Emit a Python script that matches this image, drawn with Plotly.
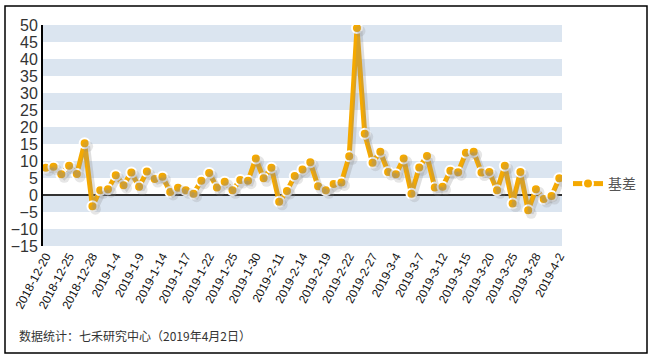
import plotly.graph_objects as go

dates = [
    "2018-12-20", "2018-12-21", "2018-12-24", "2018-12-25", "2018-12-26", "2018-12-27", "2018-12-28",
    "2019-1-2", "2019-1-3", "2019-1-4",
    "2019-1-7", "2019-1-8", "2019-1-9", "2019-1-10", "2019-1-11",
    "2019-1-14", "2019-1-15", "2019-1-16", "2019-1-17", "2019-1-18",
    "2019-1-21", "2019-1-22", "2019-1-23", "2019-1-24", "2019-1-25",
    "2019-1-28", "2019-1-29", "2019-1-30", "2019-1-31", "2019-2-1",
    "2019-2-11", "2019-2-12", "2019-2-13", "2019-2-14", "2019-2-15",
    "2019-2-18", "2019-2-19", "2019-2-20", "2019-2-21", "2019-2-22",
    "2019-2-25", "2019-2-26", "2019-2-27", "2019-2-28", "2019-3-1",
    "2019-3-4", "2019-3-5", "2019-3-6", "2019-3-7", "2019-3-8",
    "2019-3-11", "2019-3-12", "2019-3-13", "2019-3-14", "2019-3-15",
    "2019-3-18", "2019-3-19", "2019-3-20", "2019-3-21", "2019-3-22",
    "2019-3-25", "2019-3-26", "2019-3-27", "2019-3-28", "2019-3-29",
    "2019-4-1", "2019-4-2",
]

basis = [
    8.0, 8.3, 6.1, 8.6, 6.2, 15.2, -3.3,
    1.4, 1.7, 5.8,
    2.9, 6.6, 2.4, 6.9, 4.7,
    5.4, 0.9, 2.1, 1.4, 0.4,
    4.2, 6.5, 2.2, 3.9, 1.4,
    4.4, 4.2, 10.7, 4.9, 8.0,
    -2.0, 1.2, 5.6, 7.5, 9.6,
    2.6, 1.4, 3.2, 3.7, 11.4,
    49.1, 18.0, 9.5, 12.7, 6.8,
    6.1, 10.7, 0.4, 8.1, 11.5,
    2.2, 2.4, 7.1, 6.7, 12.4,
    12.7, 6.6, 6.8, 1.4, 8.6,
    -2.5, 6.8, -4.5, 1.7, -1.2,
    -0.3, 4.9,
]

tick_dates = dates[::3]
y_ticks = list(range(-15, 51, 5))
bands = [(45, 50), (35, 40), (25, 30), (15, 20), (5, 10), (-5, 0), (-15, -10)]

series_name = "基差"
source_note = "数据统计：七禾研究中心（2019年4月2日）"

ORANGE = "#f5a900"
W, H = 653, 358
L, R, T, B = 43, 91, 25, 112
plot_w = W - L - R
plot_h = H - T - B

n = len(dates)
xr = [-0.35, n - 1 + 0.35]
yr = [-15, 50]
px_x = plot_w / (xr[1] - xr[0])
px_y = plot_h / (yr[1] - yr[0])
sh = 3.0
xr2 = [xr[0] - sh / px_x, xr[1] - sh / px_x]
yr2 = [yr[0] + sh / px_y, yr[1] + sh / px_y]

fig = go.Figure()

# shadow
fig.add_trace(go.Scatter(
    x=dates, y=basis, xaxis="x2", yaxis="y2", mode="lines+markers",
    line=dict(color="rgba(140,140,140,0.28)", width=5),
    marker=dict(size=11, color="rgba(140,140,140,0.22)"),
    showlegend=False, hoverinfo="skip",
))

fig.add_trace(go.Scatter(
    x=dates, y=basis, mode="lines+markers", name=series_name,
    line=dict(color=ORANGE, width=5),
    marker=dict(size=10, color=ORANGE, line=dict(color="white", width=2)),
))

shapes = []
for lo, hi in bands:
    shapes.append(dict(type="rect", xref="x domain", yref="y", x0=0, x1=1, y0=lo, y1=hi,
                       fillcolor="#dbe5f0", line=dict(width=0), layer="below"))
# outer border
shapes.append(dict(type="rect", xref="paper", yref="paper",
                   x0=(5 - L) / plot_w, x1=(647 - L) / plot_w,
                   y0=-(353 - (T + plot_h)) / plot_h, y1=1 + (T - 6) / plot_h,
                   line=dict(color="black", width=1.5), fillcolor="rgba(0,0,0,0)"))

fig.update_layout(
    width=W, height=H,
    margin=dict(l=L, r=R, t=T, b=B, autoexpand=False),
    plot_bgcolor="white", paper_bgcolor="white",
    font=dict(family="Liberation Sans, Arial, sans-serif", color="#333"),
    shapes=shapes,
    xaxis=dict(type="category", categoryorder="array", categoryarray=dates,
               range=xr, tickmode="array", tickvals=tick_dates, ticktext=tick_dates,
               tickangle=-62, tickfont=dict(size=12, color="#111"), automargin=False,
               showgrid=False, zeroline=False, showline=False, ticks=""),
    yaxis=dict(range=yr, tickmode="array", tickvals=y_ticks, automargin=False,
               tickfont=dict(size=16, color="#333"),
               showgrid=False, zeroline=True, zerolinecolor="#333", zerolinewidth=1.5,
               showline=True, linecolor="black", linewidth=2, ticks=""),
    xaxis2=dict(type="category", categoryorder="array", categoryarray=dates,
                range=xr2, overlaying="x", visible=False),
    yaxis2=dict(range=yr2, overlaying="y", visible=False),
    legend=dict(x=(568 - L) / plot_w, y=(T + plot_h - 184) / plot_h, xanchor="left", yanchor="middle",
                font=dict(size=14, color="#555", family="Noto Sans CJK SC"),
                bgcolor="rgba(0,0,0,0)"),
    annotations=[dict(text=source_note, xref="paper", yref="paper",
                      x=(17 - L) / plot_w, y=-(335 - (T + plot_h)) / plot_h,
                      xanchor="left", yanchor="middle", showarrow=False,
                      font=dict(size=12, color="#333", family="Noto Sans CJK SC"))],
)

fig.write_html("out.html", config={"displayModeBar": False},
               post_script="document.body.style.margin='0';document.body.style.overflow='hidden';")
